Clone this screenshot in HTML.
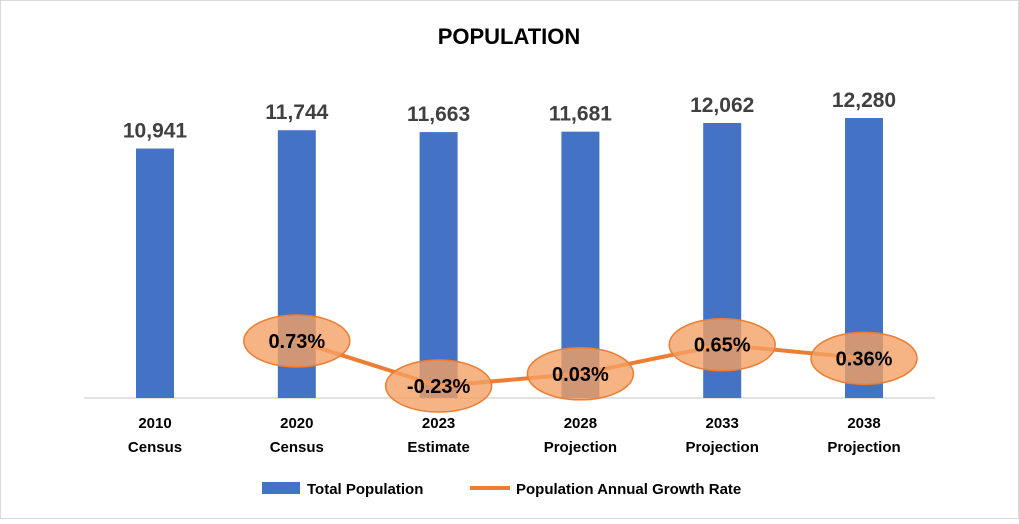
<!DOCTYPE html>
<html><head><meta charset="utf-8"><style>
body{margin:0;background:#fff;font-family:"Liberation Sans",sans-serif}
svg text{font-family:"Liberation Sans",sans-serif;font-weight:bold}
</style></head><body>
<svg id="c" width="1019" height="519">
<rect x="0.5" y="0.5" width="1018" height="518" fill="#fff" stroke="#d9d9d9"/>
<text x="509" y="44" text-anchor="middle" font-size="22" fill="#000">POPULATION</text>
<line x1="84" y1="398" x2="935" y2="398" stroke="#d9d9d9" stroke-width="1.5"/>
<g id="bars"></g><g id="line"></g><g id="xl"></g>
<g>
<rect x="262" y="482" width="38" height="12" fill="#4472C4"/>
<text x="307" y="494" font-size="15">Total Population</text>
<line x1="470" y1="488" x2="510" y2="488" stroke="#ED7D31" stroke-width="4"/>
<text x="516" y="494" font-size="15">Population Annual Growth Rate</text>
</g>
</svg>
<script>
const categories1=["2010","2020","2023","2028","2033","2038"];
const categories2=["Census","Census","Estimate","Projection","Projection","Projection"];
const population=[10941,11744,11663,11681,12062,12280];
const popLabels=["10,941","11,744","11,663","11,681","12,062","12,280"];
const growth=[null,0.73,-0.23,0.03,0.65,0.36];
const growthLabels=["","0.73%","-0.23%","0.03%","0.65%","0.36%"];
const NS="http://www.w3.org/2000/svg";
const x=i=>155+i*141.8;
const yP=v=>398-v*0.0228;
const yG=v=>375.2-v*46.9;
function mk(t,a,p,txt){const e=document.createElementNS(NS,t);for(const k in a)e.setAttribute(k,a[k]);if(txt!=null)e.textContent=txt;p.appendChild(e);return e;}
const B=document.getElementById('bars'),L=document.getElementById('line'),X=document.getElementById('xl');
population.forEach((v,i)=>{
 const r=mk('rect',{x:x(i)-19,y:yP(v),width:38,height:398-yP(v),fill:'#4472C4'},B);
 
 
 const t=mk('text',{x:x(i),y:yP(v)-11,'text-anchor':'middle','font-size':21,fill:'#404040'},B,popLabels[i]);
 
 
 const a=mk('text',{x:x(i),y:428,'text-anchor':'middle','font-size':15,fill:'#000'},X,categories1[i]);
 
 
 const b=mk('text',{x:x(i),y:452,'text-anchor':'middle','font-size':15,fill:'#000'},X,categories2[i]);
 
 
});
let pts=[];growth.forEach((v,i)=>{if(v!=null)pts.push(x(i)+','+yG(v));});
const pl=mk('polyline',{points:pts.join(' '),fill:'none',stroke:'#ED7D31','stroke-width':4,'stroke-linejoin':'round'},L);


growth.forEach((v,i)=>{if(v==null)return;
 const e=mk('ellipse',{cx:x(i),cy:yG(v),rx:53,ry:26,fill:'rgba(244,160,100,0.8)',stroke:'#ED7D31','stroke-width':1.5},L);
 
 
 const t=mk('text',{x:x(i),y:yG(v)+7,'text-anchor':'middle','font-size':20,fill:'#000'},L,growthLabels[i]);
 
 
});
</script>
</body></html>
